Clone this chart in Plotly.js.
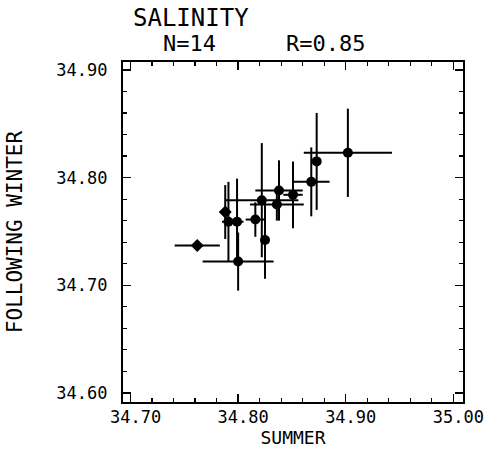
<!DOCTYPE html>
<html>
<head>
<meta charset="utf-8">
<script src="https://cdn.plot.ly/plotly-3.0.1.min.js"></script>
<style>html,body{margin:0;padding:0;background:#fff;}</style>
</head>
<body>
<div id="chart" style="width:486px;height:457px;"></div>
<script>
// Summer salinity (x) and following-winter salinity (y), with error half-widths
var summer    = [34.762, 34.788, 34.791, 34.799, 34.800, 34.816, 34.822, 34.825, 34.836, 34.838, 34.851, 34.868, 34.873, 34.902];
var winter    = [34.737, 34.768, 34.759, 34.759, 34.722, 34.761, 34.779, 34.742, 34.775, 34.788, 34.784, 34.796, 34.815, 34.823];
var summerErr = [0.021, 0.004, 0.006, 0.006, 0.033, 0.009, 0.034, 0.004, 0.025, 0.022, 0.009, 0.017, 0.004, 0.041];
var winterErr = [0.002, 0.025, 0.037, 0.040, 0.027, 0.016, 0.053, 0.036, 0.015, 0.028, 0.031, 0.032, 0.045, 0.041];
var symbols   = ['diamond', 'diamond', 'circle', 'circle', 'circle', 'circle', 'circle', 'circle', 'circle', 'circle', 'circle', 'circle', 'circle', 'circle'];

var xTickVals = [34.70, 34.80, 34.90, 35.00];
var xTickText = ['34.70', '34.80', '34.90', '35.00'];
var yTickVals = [34.60, 34.70, 34.80, 34.90];
var yTickText = ['34.60', '34.70', '34.80', '34.90'];

var FONT = 'DejaVu Sans Mono, monospace';

var trace = {
  x: summer, y: winter, type: 'scatter', mode: 'markers',
  marker: {color: '#000', size: 10, symbol: symbols, line: {width: 0}},
  error_x: {type: 'data', array: summerErr, visible: true, color: '#000', thickness: 2, width: 0},
  error_y: {type: 'data', array: winterErr, visible: true, color: '#000', thickness: 2, width: 0},
  hoverinfo: 'x+y'
};

function axis(range, vals, text, tick0, titleText, standoff) {
  return {
    range: range, tickmode: 'array', tickvals: vals, ticktext: text,
    ticks: 'inside', ticklen: 8, tickwidth: 1.5, tickcolor: '#000',
    minor: {tickmode: 'linear', tick0: tick0, dtick: 0.02, ticks: 'inside', ticklen: 4, tickwidth: 1.2, tickcolor: '#000'},
    showline: true, linewidth: 2.2, linecolor: '#000', mirror: 'allticks',
    showgrid: false, zeroline: false,
    tickfont: {family: FONT, size: 17, color: '#000'},
    title: {text: titleText, font: {family: FONT, size: 18, color: '#000'}, standoff: standoff},
    automargin: false
  };
}

var xa = axis([34.693, 35.009], xTickVals, xTickText, 34.60, 'SUMMER', 2);
xa.ticklabelstandoff = -2;
xa.ticklabelshift = 5;
var ya = axis([34.5916, 34.9073], yTickVals, yTickText, 34.60, 'FOLLOWING WINTER', 28);
ya.ticklabelstandoff = 10;
ya.title.font.size = 21;

var layout = {
  width: 486, height: 457,
  margin: {l: 123, r: 23, t: 62, b: 55, pad: 0},
  paper_bgcolor: '#fff', plot_bgcolor: '#fff',
  showlegend: false,
  xaxis: xa, yaxis: ya,
  font: {family: FONT, color: '#000'},
  annotations: [
    {text: 'SALINITY', xref: 'paper', yref: 'paper', x: 0.20, y: 1.129, xanchor: 'center', yanchor: 'middle', showarrow: false, font: {family: FONT, size: 24, color: '#000'}},
    {text: 'N=14', xref: 'paper', yref: 'paper', x: 0.195, y: 1.054, xanchor: 'center', yanchor: 'middle', showarrow: false, font: {family: FONT, size: 22, color: '#000'}},
    {text: 'R=0.85', xref: 'paper', yref: 'paper', x: 0.597, y: 1.054, xanchor: 'center', yanchor: 'middle', showarrow: false, font: {family: FONT, size: 22, color: '#000'}}
  ]
};

Plotly.newPlot('chart', [trace], layout, {displayModeBar: false, staticPlot: true});
</script>
</body>
</html>
